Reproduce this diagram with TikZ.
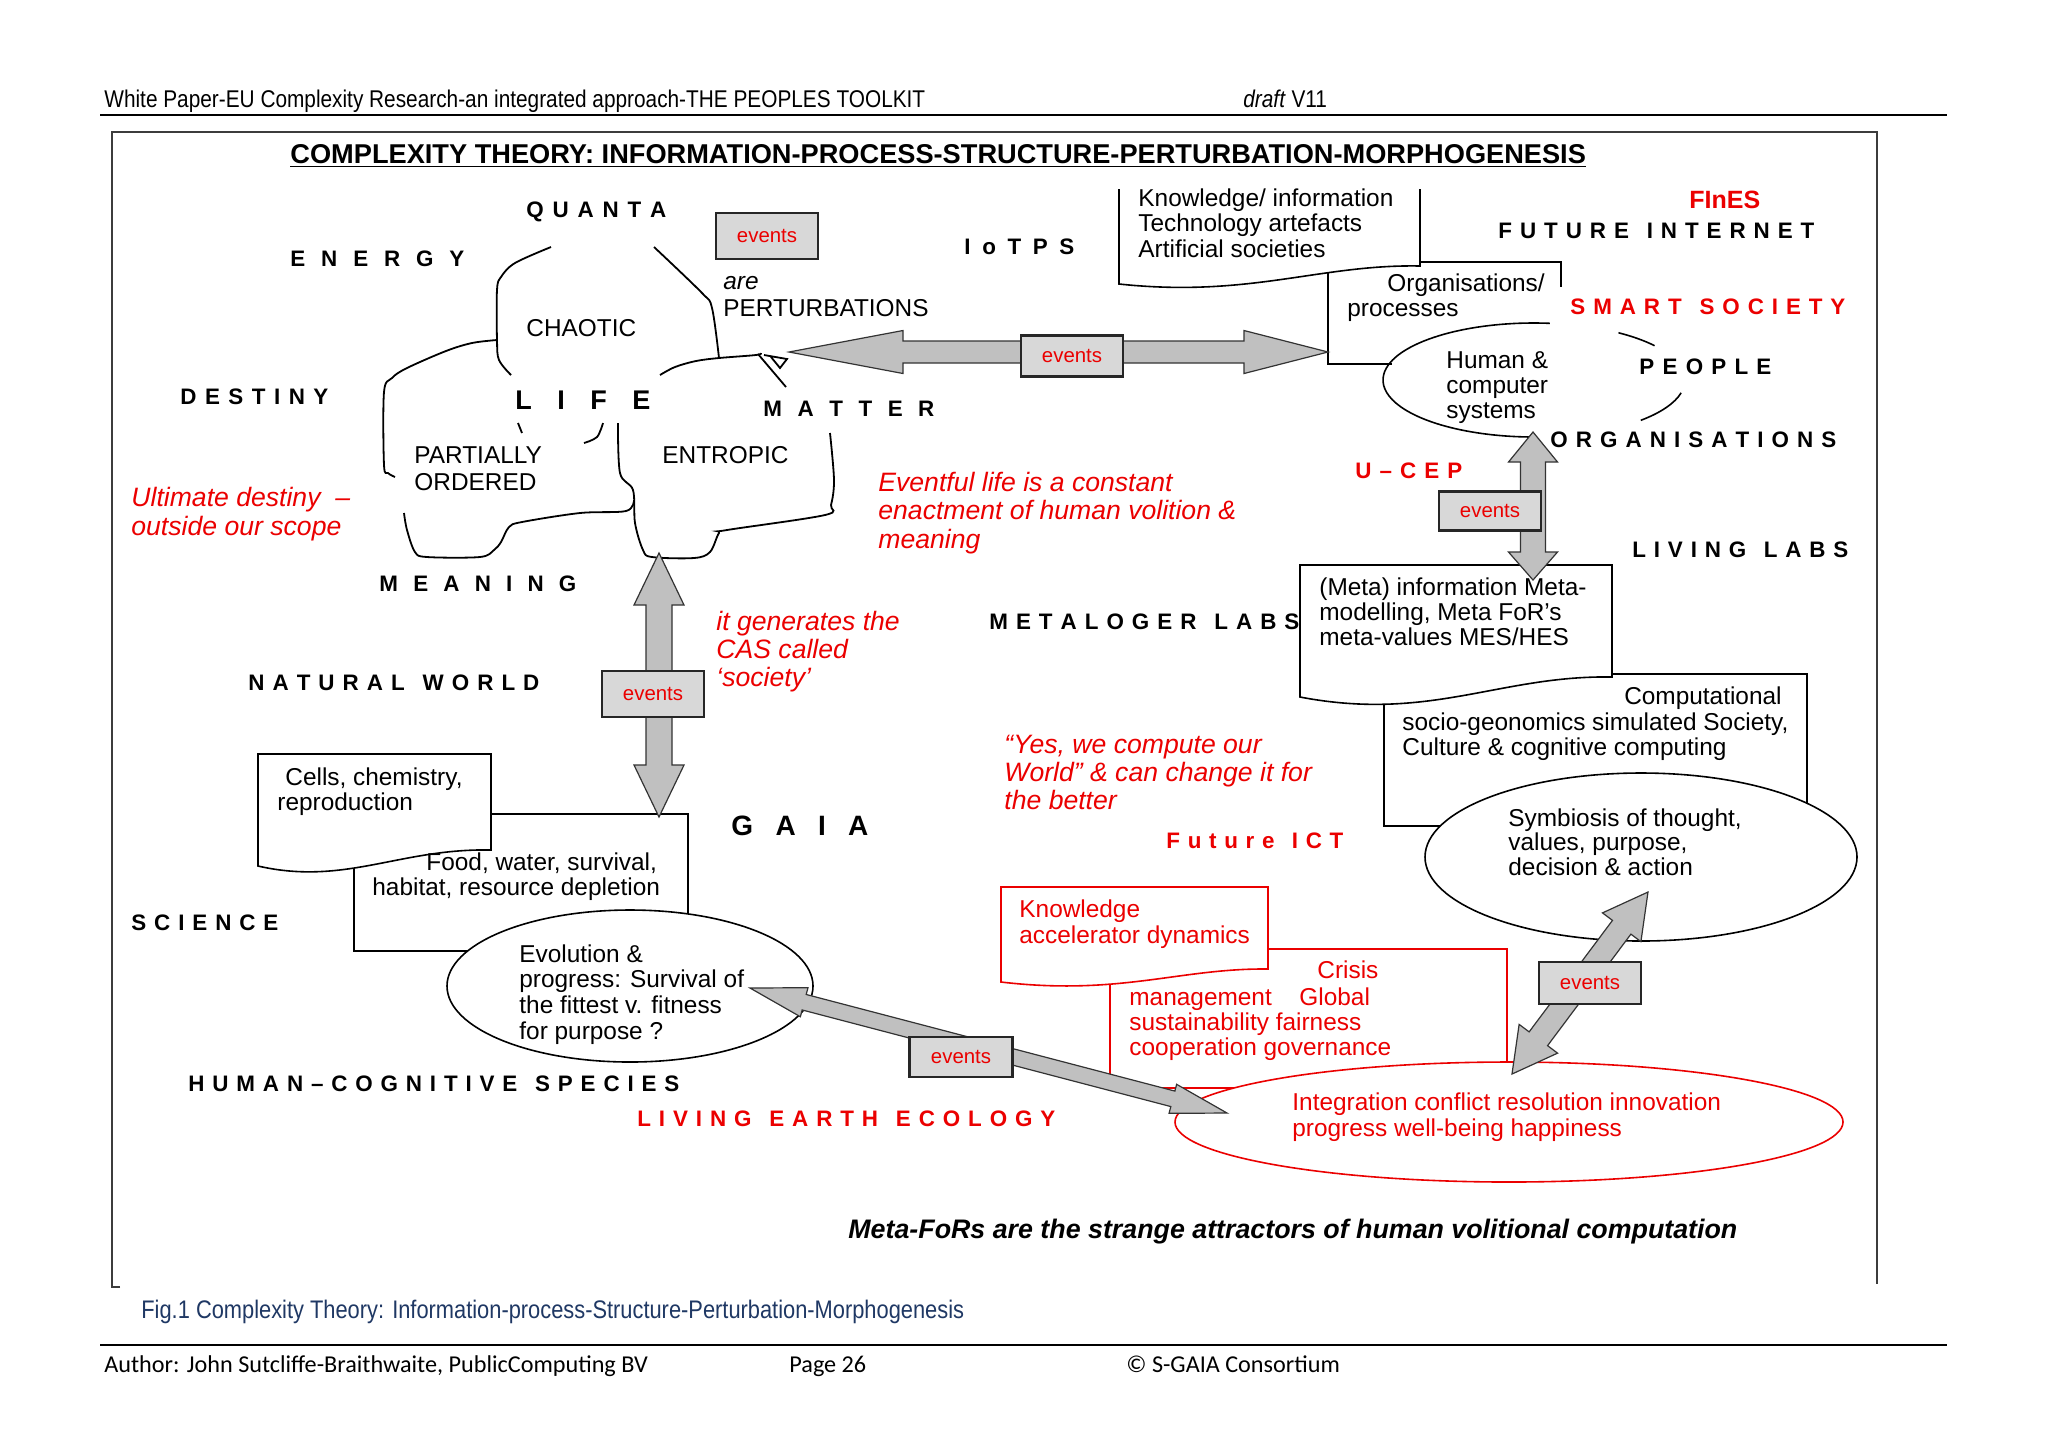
\documentclass[tikz,border=0pt]{standalone}
\usepackage{fontspec}
\setmainfont{Liberation Sans}
\newfontfamily\narrowfont[FakeStretch=0.86]{Liberation Sans}
\newfontfamily\calfont{Carlito}
\usetikzlibrary{calc,shapes.geometric}
\definecolor{pred}{RGB}{235,0,0}
\definecolor{evfill}{RGB}{216,216,216}
\definecolor{arrfill}{RGB}{192,192,192}
\definecolor{figblue}{RGB}{31,56,100}
\definecolor{framegray}{RGB}{60,60,60}
\makeatletter
\newcommand\spread[2]{\hbox to #1{\spread@a#2\spread@end}}
\let\spread@end\relax
\def\spread@a#1{#1\spread@b}
\def\spread@b#1{\ifx#1\spread@end\else\ifx#1|\hskip0pt plus1.25fil\relax\else\hfil#1\fi\expandafter\spread@b\fi}
\makeatother
% #1 name prefix, #2 style, #3 x, #4 first baseline, #5 pitch, #6 lines
\newcommand\tlines[6]{\foreach \tl [count=\ti from 0] in {#6}{\node[#2,anchor=base west] (#1\ti) at ({#3},{#4+\ti*#5}) {\tl};}}
% #1 style, #2 start, #3 end, #4 head half width, #5 head length start, #6 head length end, #7 shaft half width
\newcommand\dblarrow[7][]{%
  \path ($(#2)!#5!(#3)$) coordinate (daA) ($(#3)!#6!(#2)$) coordinate (daB);
  \draw[blockarrow,#1] (#2)
    -- ($(daA)!#4!90:(#3)$) -- ($(daA)!#7!90:(#3)$)
    -- ($(daB)!#7!-90:(#2)$) -- ($(daB)!#4!-90:(#2)$)
    -- (#3)
    -- ($(daB)!#4!90:(#2)$) -- ($(daB)!#7!90:(#2)$)
    -- ($(daA)!#7!-90:(#3)$) -- ($(daA)!#4!-90:(#3)$)
    -- cycle;}
\begin{document}
\begin{tikzpicture}[x=0.5pt,y=-0.5pt,
  shp/.style={draw=black,line width=0.8pt},
  rshp/.style={draw=pred,line width=0.8pt},
  blob/.style={draw=black,line width=0.9pt},
  blockarrow/.style={draw=black!80,line width=0.6pt,fill=arrfill,line join=miter},
  evbox/.style={draw=black!85,line width=1.4pt,fill=evfill,minimum width=51pt,minimum height=20.5pt,inner sep=0pt,text=pred,font=\fontsize{10.2}{12}\selectfont},
  lab/.style={inner sep=0pt,anchor=west,text height=7.9pt,text depth=0pt,font=\bfseries\fontsize{11.2}{13}\selectfont},
  rlab/.style={lab,text=pred},
  body/.style={inner sep=0pt,font=\fontsize{12.2}{14}\selectfont},
  rbody/.style={body,text=pred},
  rital/.style={inner sep=0pt,text=pred,font=\itshape\fontsize{13.3}{15}\selectfont},
  hdr/.style={inner sep=0pt,anchor=base west,font=\narrowfont\fontsize{12.1}{14}\selectfont},
  foot/.style={inner sep=0pt,anchor=base west,font=\calfont\fontsize{12.1}{14}\selectfont},
  ell/.style={ellipse,inner sep=0pt,fill=white}
]
\useasboundingbox (0,0) rectangle (2048,1448);
\fill[white] (0,0) rectangle (2048,1448);

% ---------- page header / footer ----------
\node[hdr] (header) at (104,107) {White Paper-EU Complexity Research-an integrated approach-THE PEOPLES TOOLKIT};
\node[hdr] (draft) at (1243,107) {\textit{draft} V11};
\draw[line width=1pt] (100,115) -- (1947,115);
\draw[framegray,line width=1pt] (120,1287) -- (112,1287) -- (112,132) -- (1877,132) -- (1877,1284);
\node[inner sep=0pt,anchor=base west,font=\bfseries\fontsize{13.6}{15}\selectfont] (title) at (290,163)
  {\underline{COMPLEXITY THEORY: INFORMATION-PROCESS-STRUCTURE-PERTURBATION-MORPHOGENESIS}};
\node[hdr,text=figblue,font=\narrowfont\fontsize{12.7}{14}\selectfont] (caption) at (141,1318) {Fig.1 Complexity Theory: Information-process-Structure-Perturbation-Morphogenesis};
\draw[line width=1pt] (100,1345) -- (1947,1345);
\node[foot] (author) at (104,1372) {Author: John Sutcliffe-Braithwaite, PublicComputing BV};
\node[foot] (page) at (789,1372) {Page 26};
\node[foot] (copy) at (1126,1372) {© S-GAIA Consortium};

% ---------- top right: organisations / knowledge ----------
\draw[shp] (1328,262) -- (1328,364) -- (1392,364);
\draw[shp] (1420,262) -- (1561,262) -- (1561,287);
\draw[shp,fill=white] (1119,189) -- (1119,284) .. controls (1250,298) and (1320,264) .. (1420,266) -- (1420,189);
\node[ellipse,minimum width=151pt,minimum height=57pt,inner sep=0pt] (hum) at (1534,380) {};
\draw[shp] ($(hum.center)+(-84:151 and 57)$) arc[start angle=-84,end angle=-270,x radius=151,y radius=57];
\draw[shp] ($(hum.center)+(-37:151 and 57)$) arc[start angle=-37,end angle=-56,x radius=151,y radius=57];
\draw[shp] ($(hum.center)+(13:151 and 57)$) arc[start angle=13,end angle=45,x radius=151,y radius=57];

% ---------- right: meta / computational / symbiosis ----------
\draw[shp] (1384,674) rectangle (1807,826);
\draw[shp,fill=white] (1300,565) -- (1612,565) -- (1612,677) .. controls (1500,675) and (1430,722) .. (1300,697) -- cycle;
\node[ell,shp,minimum width=216pt,minimum height=84pt] (symb) at (1641,857) {};

% ---------- left: cells / food / evolution ----------
\draw[shp] (354,814) rectangle (688,951);
\draw[shp,fill=white] (258,754) -- (491,754) -- (491,850) .. controls (400,848) and (345,886) .. (258,866) -- cycle;
\node[ell,shp,minimum width=183pt,minimum height=76pt] (evo) at (630,986) {};

% ---------- bottom right: red group ----------
\draw[rshp] (1110,949) rectangle (1507,1088);
\draw[rshp,fill=white] (1001,887) -- (1268,887) -- (1268,969) .. controls (1180,968) and (1120,996) .. (1001,982) -- cycle;
\node[ell,rshp,minimum width=334pt,minimum height=60pt] (integ) at (1509,1122) {};

% ---------- LIFE blob ----------
\draw[blob] plot[smooth,tension=0.55] coordinates {(551,247) (515,263) (501,277) (497,290) (497,340) (499,360) (511,375)};
\draw[blob] plot[smooth,tension=0.55] coordinates {(497,340) (472,343) (446,351) (407,368) (392,378) (384,392) (384,465) (388,473) (395,477)};
\draw[blob] plot[smooth,tension=0.55] coordinates {(654,247) (702,293) (712,308) (719,358)};
\draw[blob] plot[smooth,tension=0.55] coordinates {(660,375) (675,367) (696,361) (719,358) (756,355) (761,353)};
\draw[blob] (758,354) -- (786,387);
\draw[blob] (764,355) -- (787,359) -- (780,368) -- (771,357);
\draw[blob] (518,423) -- (522,433);
\draw[blob] plot[smooth,tension=0.55] coordinates {(603,423) (597,437) (584,443)};
\draw[blob] plot[smooth,tension=0.55] coordinates {(618,423) (620,473) (633,490) (635,523) (643,550) (652,557) (694,558) (710,552) (719,533) (727,530) (825,515) (831,505) (834,480) (830,433)};
\draw[blob] plot[smooth,tension=0.55] coordinates {(634,500) (626,511) (580,513) (522,522) (509,527) (501,542) (494,550) (480,557) (427,557) (415,552) (407,530) (404,513)};

% ---------- block arrows ----------
\coordinate (mtip) at (789,352);
\coordinate (otip) at (1328,352);
\dblarrow{mtip}{otip}{10.75pt}{57pt}{42pt}{5.5pt}
\coordinate (ltip) at (659,553);
\coordinate (gtip) at (659,817);
\dblarrow{ltip}{gtip}{12.5pt}{26pt}{26pt}{6.5pt}
\coordinate (utop) at (1533,432);
\coordinate (ubot) at (1533,580);
\dblarrow{utop}{ubot}{12.25pt}{15pt}{14pt}{6.25pt}
\coordinate (stip) at (1648,892);
\coordinate (itipa) at (1512,1074);
\dblarrow{stip}{itipa}{12pt}{22pt}{22pt}{5.75pt}
\coordinate (etip) at (750,988);
\coordinate (itipb) at (1227,1113);
\dblarrow{etip}{itipb}{7.5pt}{28pt}{28pt}{4pt}

% ---------- events boxes ----------
\node[evbox,minimum height=23pt] (ev0) at (767,236) {events};
\node[evbox] (ev1) at (1072,356) {events};
\node[evbox,minimum height=23pt] (ev2) at (653,694) {events};
\node[evbox,minimum height=19.5pt] (ev3) at (1490,511) {events};
\node[evbox,minimum height=21pt] (ev4) at (1590,983) {events};
\node[evbox,minimum width=51.5pt,minimum height=20pt] (ev5) at (961,1057) {events};

% ---------- spaced labels ----------
\node[lab] (quanta) at (526,210) {\spread{70pt}{QUANTA}};
\node[lab] (energy) at (290,259) {\spread{87pt}{ENERGY}};
\node[lab] (destiny) at (180,397) {\spread{74pt}{DESTINY}};
\node[lab,text height=9.7pt,font=\bfseries\fontsize{13.5}{15}\selectfont] (life) at (515,400) {\spread{67.5pt}{LIFE}};
\node[lab] (matter) at (763,409) {\spread{85.5pt}{MATTER}};
\node[lab] (meaning) at (379,584) {\spread{98.5pt}{MEANING}};
\node[lab] (natural) at (248,683) {\spread{145.5pt}{NATURAL|WORLD}};
\node[lab] (science) at (131,923) {\spread{73.5pt}{SCIENCE}};
\node[lab] (human) at (188,1084) {\spread{245.5pt}{HUMAN–COGNITIVE|SPECIES}};
\node[rlab] (earth) at (637,1119) {\spread{209pt}{LIVING|EARTH|ECOLOGY}};
\node[lab,text height=10pt,font=\bfseries\fontsize{14}{16}\selectfont] (gaia) at (731,825) {\spread{68.5pt}{GAIA}};
\node[rlab] (fict) at (1166,841) {\spread{88.5pt}{Future|ICT}};
\node[lab] (metaloger) at (989,622) {\spread{155pt}{METALOGER|LABS}};
\node[lab] (livinglabs) at (1632,550) {\spread{108pt}{LIVING|LABS}};
\node[lab] (organis) at (1550,440) {\spread{143pt}{ORGANISATIONS}};
\node[rlab] (ucep) at (1355,471) {\spread{53.5pt}{U–CEP}};
\node[lab] (people) at (1639,367) {\spread{66pt}{PEOPLE}};
\node[rlab] (smart) at (1570,307) {\spread{137.5pt}{SMART|SOCIETY}};
\node[lab] (finternet) at (1498,231) {\spread{158pt}{FUTURE|INTERNET}};
\node[lab] (iotps) at (964,247) {\spread{55pt}{IoTPS}};
\node[rlab,text height=9pt,font=\bfseries\fontsize{12.5}{14}\selectfont] (fines) at (1689,199) {FInES};

% ---------- body texts ----------
\node[body,anchor=base west] (chaotic) at (526,336) {CHAOTIC};
\tlines{partial}{body}{414}{463}{27}{PARTIALLY,ORDERED}
\node[body,anchor=base west] (entropic) at (662,463) {ENTROPIC};
\node[body,anchor=base west,font=\itshape\fontsize{12.2}{14}\selectfont] (are) at (723,289) {are};
\node[body,anchor=base west] (perturb) at (723,316) {PERTURBATIONS};
\tlines{know}{body}{1138}{206}{25.5}{{Knowledge/ information},{Technology artefacts},{Artificial societies}}
\node[body,anchor=base west] (orga) at (1387,291) {Organisations/};
\node[body,anchor=base west] (orgb) at (1347,316) {processes};
\tlines{humt}{body}{1446}{368}{25}{{Human \&},{computer},{systems}}
\tlines{metat}{body}{1319}{595}{25}{{(Meta) information Meta-},{modelling, Meta FoR’s},{meta-values MES/HES}}
\node[body,anchor=base east] (compa) at (1782,704) {Computational};
\tlines{compt}{body}{1402}{730}{25}{{socio-geonomics simulated Society,},{Culture \& cognitive computing}}
\tlines{symbt}{body}{1508}{826}{24.5}{{Symbiosis of thought,},{values, purpose,},{decision \& action}}
\node[body,anchor=base west] (cellsa) at (285,785) {Cells, chemistry,};
\node[body,anchor=base west] (cellsb) at (277,810) {reproduction};
\node[body,anchor=base west] (fooda) at (426,870) {Food, water, survival,};
\node[body,anchor=base west] (foodb) at (372,895) {habitat, resource depletion};
\tlines{evot}{body}{519}{962}{25.7}{{Evolution \&},{progress: Survival of},{the fittest v. fitness},{for purpose ?}}
\tlines{integt}{rbody}{1292}{1110}{26}{{Integration conflict resolution innovation},{progress well-being happiness}}
\tlines{kat}{rbody}{1019}{917}{26}{{Knowledge},{accelerator dynamics}}
\node[rbody,anchor=base west] (crisis) at (1317,978) {Crisis};
\node[rbody,anchor=base west] (mgmt) at (1129,1005) {management};
\node[rbody,anchor=base west] (global) at (1299,1005) {Global};
\tlines{crist}{rbody}{1129}{1030}{25}{{sustainability fairness},{cooperation governance}}

% ---------- red italic remarks ----------
\tlines{ult}{rital}{131}{506}{29}{{Ultimate destiny \ –},{outside our scope}}
\tlines{eventful}{rital}{878}{491}{28.5}{{Eventful life is a constant},{enactment of human volition \&},{meaning}}
\tlines{itgen}{rital}{716}{630}{28}{{it generates the},{CAS called},{‘society’}}
\tlines{yes}{rital}{1004}{753}{28}{{“Yes, we compute our},{World” \& can change it for},{the better}}
\node[inner sep=0pt,anchor=base west,font=\bfseries\itshape\fontsize{13.4}{15}\selectfont] (metafors) at (848,1238)
  {Meta-FoRs are the strange attractors of human volitional computation};
\end{tikzpicture}
\end{document}
